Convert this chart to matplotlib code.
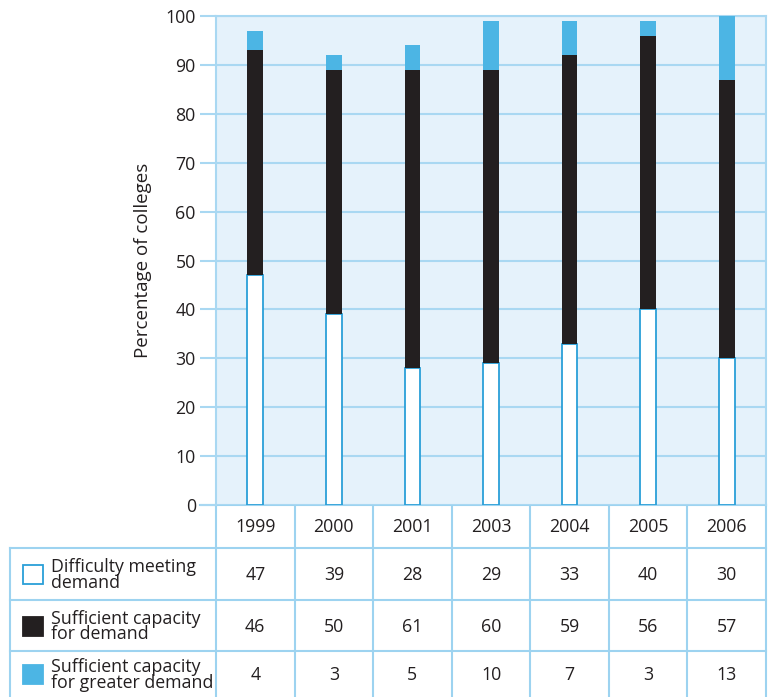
import numpy as np
import matplotlib.pyplot as plt
from matplotlib.patches import Rectangle

plt.rcParams['font.family'] = ['Open Sans', 'DejaVu Sans']

years = ['1999', '2000', '2001', '2003', '2004', '2005', '2006']
difficulty = [47, 39, 28, 29, 33, 40, 30]
sufficient = [46, 50, 61, 60, 59, 56, 57]
greater = [4, 3, 5, 10, 7, 3, 13]
row_labels = ['Difficulty meeting\ndemand',
              'Sufficient capacity\nfor demand',
              'Sufficient capacity\nfor greater demand']

txt = '#231f20'
black = '#231f20'
blue = '#4cb5e4'
edge = '#2a9fd8'
bg = '#e5f2fb'
grid = '#a9d8f2'
fs = 12.8

W, H = 776, 697
fig = plt.figure(figsize=(W / 100, H / 100), dpi=100)

# plot area in pixels
L, R, T, B = 216, 766, 16, 505
ax = fig.add_axes([L / W, 1 - B / H, (R - L) / W, (B - T) / H])
ax.set_facecolor(bg)

x = np.arange(len(years))
bw = 0.2
ax.bar(x, difficulty, bw, color='white', edgecolor=edge, linewidth=1.3, zorder=3)
ax.bar(x, sufficient, bw, bottom=difficulty, color=black, linewidth=0, zorder=3)
bot2 = np.array(difficulty) + np.array(sufficient)
ax.bar(x, greater, bw, bottom=bot2, color=blue, linewidth=0, zorder=3)

ax.set_xlim(-0.5, len(years) - 0.5)
ax.set_ylim(0, 100)
ax.set_yticks(range(0, 101, 10))
ax.set_xticks([])
ax.yaxis.grid(True, color=grid, linewidth=1.5, zorder=1)
ax.tick_params(axis='y', length=11.5, width=1.5, color=grid, pad=3,
               labelsize=fs, labelcolor=txt)
for s in ['left', 'top', 'right']:
    ax.spines[s].set_color(grid)
    ax.spines[s].set_linewidth(1.5)
ax.spines['bottom'].set_visible(False)
ax.set_ylabel('Percentage of colleges', fontsize=13.5, color=txt, labelpad=10)

# table below, drawn in pixel coordinates
tab = fig.add_axes([0, 0, 1, 1], zorder=-1)
tab.set_xlim(0, W)
tab.set_ylim(H, 0)
tab.axis('off')
line = '#9dd3f0'
cw = (R - L) / len(years)
rows_y = [B, 548, 600, 651, H]
for i in range(len(years) + 1):
    tab.plot([L + i * cw] * 2, [B, H], color=line, lw=1.5)
tab.plot([10, 10], [548, H], color=line, lw=1.5)
tab.plot([200, R], [B, B], color=line, lw=1.5)
for yy in rows_y[1:4]:
    tab.plot([10, R], [yy, yy], color=line, lw=1.5)

for i, yr in enumerate(years):
    tab.text(L + (i + 0.5) * cw, (rows_y[0] + rows_y[1]) / 2 + 1, yr,
             ha='center', va='center', fontsize=fs, color=txt)

series = [difficulty, sufficient, greater]
fills = ['white', black, blue]
for r, (vals, lab, fc) in enumerate(zip(series, row_labels, fills)):
    yc = (rows_y[r + 1] + rows_y[r + 2]) / 2
    for i, v in enumerate(vals):
        tab.text(L + (i + 0.5) * cw, yc + 1, str(v), ha='center', va='center',
                 fontsize=fs, color=txt)
    tab.add_patch(Rectangle((23, yc - 9), 20, 19, facecolor=fc,
                            edgecolor=edge if fc == 'white' else fc, lw=1.3))
    tab.text(51, yc + 1, lab, ha='left', va='center', fontsize=fs,
             color=txt, linespacing=0.8)

fig.savefig('out.png', dpi=100)
